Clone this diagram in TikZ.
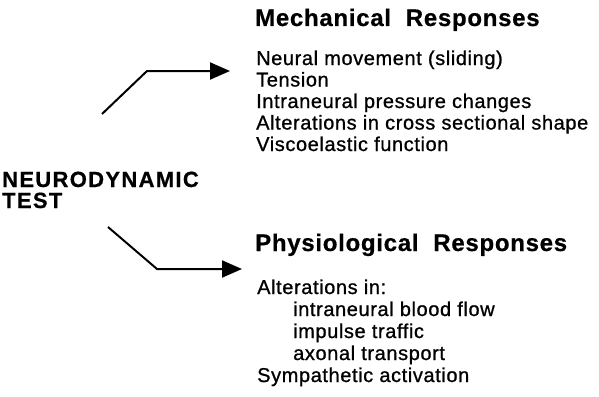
\documentclass[tikz,border=0pt]{standalone}
\usepackage{fontspec}
\setmainfont{Liberation Sans}
\newfontfamily\headfont{Liberation Sans}[LetterSpace=3,BoldFeatures={FakeBold=0.6}]
\newfontfamily\testfont{Liberation Sans}[LetterSpace=6,BoldFeatures={FakeBold=0.6}]
\newfontfamily\bodyfont{Liberation Sans}[LetterSpace=3,FakeBold=0.9]
\usetikzlibrary{arrows.meta}
\begin{document}
\begin{tikzpicture}[x=1pt,y=-1pt,
  heading/.style={anchor=base west,inner sep=0pt,font=\headfont\bfseries\fontsize{24}{24}\selectfont},
  testlbl/.style={anchor=base west,inner sep=0pt,font=\testfont\bfseries\fontsize{22}{22}\selectfont},
  item/.style={anchor=base west,inner sep=0pt,font=\bodyfont\fontsize{20}{20}\selectfont},
  conn/.style={line width=2pt,line join=miter,-{Triangle[length=20pt,width=17pt]}}]
\useasboundingbox (0,0) rectangle (599,396);
% left label
\node[testlbl] (t1) at (2,187) {NEURODYNAMIC};
\node[testlbl] (t2) at (2,208) {TEST};
% mechanical
\node[heading] (mech) at (255,26) {Mechanical\ \ Responses};
\node[item] (m1) at (256,65) {Neural movement (sliding)};
\node[item] (m2) at (256,86.5) {Tension};
\node[item] (m3) at (256,108) {Intraneural pressure changes};
\node[item] (m4) at (256,129.5) {Alterations in cross sectional shape};
\node[item] (m5) at (256,151) {Viscoelastic function};
% physiological
\node[heading] (phys) at (255,251) {Physiological\ \ Responses};
\node[item] (p1) at (257,294) {Alterations in:};
\node[item] (p2) at (293,316) {intraneural blood flow};
\node[item] (p3) at (293,338) {impulse traffic};
\node[item] (p4) at (293,360) {axonal transport};
\node[item] (p5) at (257,382) {Sympathetic activation};
% connectors
\coordinate (a1) at (102,114);
\coordinate (a1c) at (147,71);
\coordinate (a1e) at ([xshift=-26pt]m1.west |- 0,71);
\coordinate (a2) at (108,227);
\coordinate (a2c) at (157,269);
\coordinate (a2e) at (242,269);
\draw[conn] (a1) -- (a1c) -- (a1e);
\draw[conn] (a2) -- (a2c) -- (a2e);
\end{tikzpicture}
\end{document}
